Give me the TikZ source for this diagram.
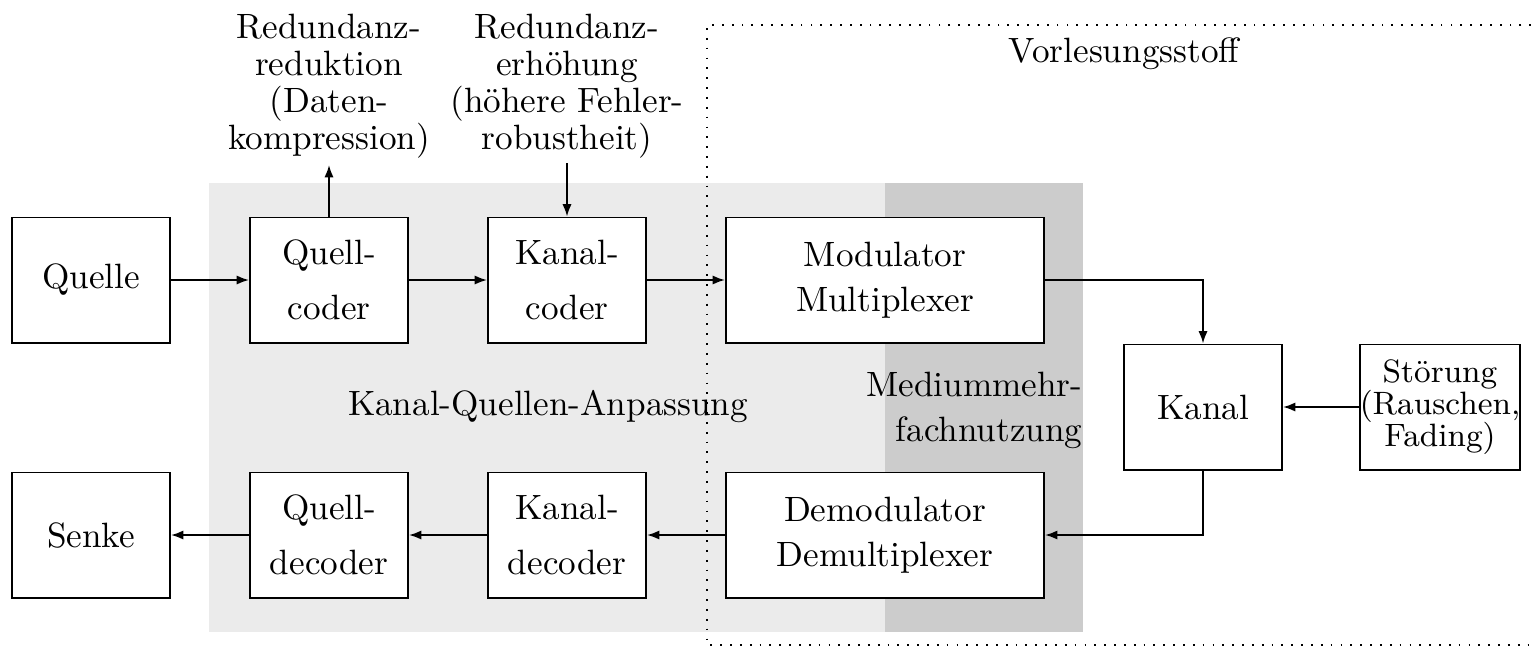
\documentclass[tikz,border=0pt]{standalone}
\usetikzlibrary{arrows.meta}
\begin{document}
\begin{tikzpicture}[x=0.01cm,y=-0.01cm,
  font=\fontsize{10}{12}\selectfont,
  blk/.style={draw, line width=0.55pt, fill=white, minimum width=1.58cm, minimum height=1.25cm, align=center, inner sep=0pt},
  wblk/.style={blk, minimum width=3.18cm},
  sa/.style={font=\fontsize{10}{15.6}\selectfont},
  sb/.style={font=\fontsize{10}{12.8}\selectfont},
  sc/.style={font=\fontsize{9.2}{9.2}\selectfont},
  conn/.style={line width=0.5pt, -{Latex[length=3.5pt,width=2.6pt]}},
  lbl/.style={align=center, inner sep=0pt}]
\useasboundingbox (0,0) rectangle (1531,648);
% background regions
\fill[black!8] (209,183) rectangle (1083,632);
\fill[black!20] (885,183) rectangle (1083,632);
\begin{scope}
\clip (0,0) rectangle (1531,648);
\draw[line width=0.6pt, dash pattern=on 0.5pt off 2.3pt] (1600,25) -- (707,25) -- (707,645) -- (1600,645);
\end{scope}
% labels
\node[lbl] (vl) at (1124,54) {Vorlesungsstoff};
\node[lbl] (kqa) at (548,407) {Kanal-Quellen-Anpassung};
\node[lbl, align=right, anchor=east, sb] (mmf) at (1083,410) {Mediummehr-\\fachnutzung};
\node[lbl, font=\fontsize{10}{10.5}\selectfont] (rr) at (329,86) {Redundanz-\\reduktion\\(Daten-\\kompression)};
\node[lbl, font=\fontsize{10}{10.5}\selectfont] (re) at (567,86) {Redundanz-\\erhöhung\\(höhere Fehler-\\robustheit)};
% blocks
\node[blk] (quelle) at (91,280) {Quelle};
\node[blk, sa] (qc) at (329,280) {Quell-\\coder};
\node[blk, sa] (kc) at (567,280) {Kanal-\\coder};
\node[wblk, sb] (mod) at (885,280) {Modulator\\Multiplexer};
\node[blk] (kanal) at (1203,407) {Kanal};
\node[blk, sc] (stoer) at (1440,407) {Störung\\(Rauschen,\\Fading)};
\node[blk] (senke) at (91,535) {Senke};
\node[blk, sa] (qd) at (329,535) {Quell-\\decoder};
\node[blk, sa] (kd) at (567,535) {Kanal-\\decoder};
\node[wblk, sb] (demod) at (885,535) {Demodulator\\Demultiplexer};
\coordinate (rrend) at (329,165);
\coordinate (restart) at (567,163);
% connectors
\draw[conn] (quelle) -- (qc);
\draw[conn] (qc) -- (kc);
\draw[conn] (kc) -- (mod);
\draw[conn] (mod.east) -| (kanal.north);
\draw[conn] (stoer) -- (kanal);
\draw[conn] (kanal.south) |- (demod.east);
\draw[conn] (demod) -- (kd);
\draw[conn] (kd) -- (qd);
\draw[conn] (qd) -- (senke);
\draw[conn] (qc.north) -- (rrend);
\draw[conn] (restart) -- (kc.north);
\end{tikzpicture}
\end{document}
